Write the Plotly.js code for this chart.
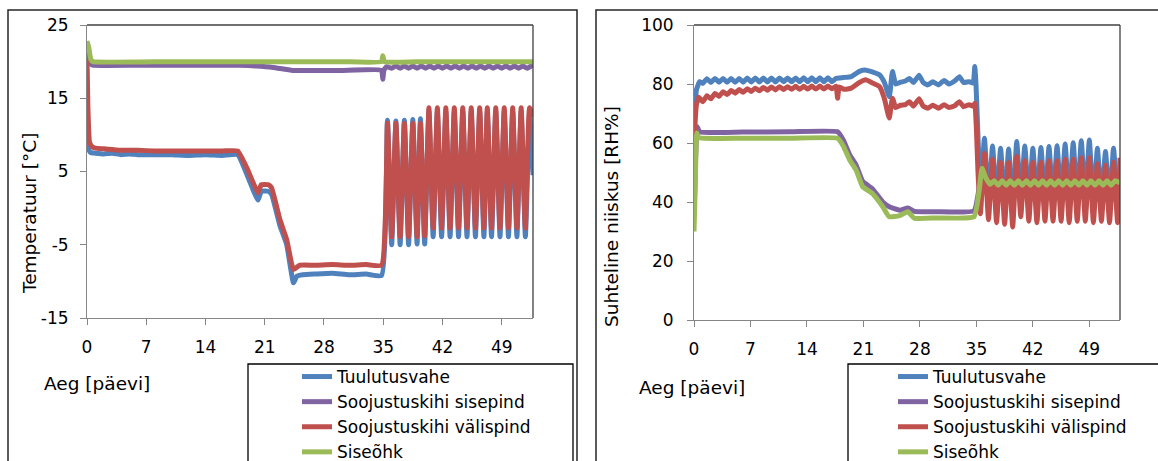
<!DOCTYPE html>
<html>
<head>
<meta charset="utf-8">
<script src="https://cdn.plot.ly/plotly-3.0.1.min.js"></script>
<style>
  html, body { margin: 0; padding: 0; background: #ffffff; }
  #chart { width: 1158px; height: 461px; }
</style>
</head>
<body>
<div id="chart"></div>
<script>
// ---------- Names, labels ----------
const seriesNames = ["Tuulutusvahe", "Soojustuskihi sisepind", "Soojustuskihi välispind", "Siseõhk"];
const seriesColors = ["#4F81BD", "#8064A2", "#C0504D", "#9BBB59"];
const xTickVals = [0, 7, 14, 21, 28, 35, 42, 49];
const tempTickVals = [-15, -5, 5, 15, 25];
const tempTickText = ["-15", "-5", "5", "15", "25"];
const rhTickVals = [0, 20, 40, 60, 80, 100];
const rhTickText = ["0", "20", "40", "60", "80", "100"];
const xTitle = "Aeg [päevi]";
const tempTitle = "Temperatuur [°C]";
const rhTitle = "Suhteline niiskus [RH%]";

// ---------- Temperature (°C) ----------
const tempTimeTuulutus = [0, 0.15, 0.4, 1, 2, 3, 4, 5, 6, 8, 10, 12, 14, 16, 17.8, 19.0, 20.2, 20.6, 21.4, 21.8, 22.8, 23.6, 24.4, 24.8, 25.5, 27, 29, 31, 33, 34.8,
  35.5, 36.0, 36.5, 37.0, 37.5, 38.0, 38.5, 39.0, 39.4, 39.9, 40.4, 40.9, 41.4, 41.9, 42.4, 42.9, 43.4, 43.9, 44.4, 44.9, 45.4, 45.9, 46.4, 46.9, 47.3, 47.8, 48.3, 48.8, 49.3, 49.8, 50.3, 50.8, 51.3, 51.8, 52.3, 52.7];
const tempTuulutus = [9.6, 8.2, 7.6, 7.5, 7.4, 7.5, 7.3, 7.4, 7.3, 7.3, 7.3, 7.2, 7.3, 7.2, 7.3, 4.3, 1.1, 2.3, 2.3, 1.9, -2.4, -5.0, -10.2, -9.3, -9.1, -9.0, -8.9, -9.1, -9.0, -9.2,
  12.0, -5.0, 11.9, -5.0, 12.0, -5.0, 12.1, -4.9, 12.2, -4.9, 13.2, -3.9, 13.2, -3.9, 13.2, -3.9, 13.2, -3.9, 13.2, -3.9, 13.2, -3.9, 13.2, -3.9, 13.2, -3.9, 13.2, -3.9, 13.2, -3.9, 13.2, -3.9, 13.2, -3.9, 13.2, 4.5];

const tempTimeSisepind = [0, 0.2, 0.5, 0.8, 6, 12, 18, 20, 22, 24.3, 27, 30, 34.8, 34.95, 35.1, 35.4,
  36.0, 36.5, 37.0, 37.5, 38.0, 38.5, 39.0, 39.5, 40.0, 40.5, 41.0, 41.5, 42.0, 42.5, 43.0, 43.5, 44.0, 44.5, 45.0, 45.5, 46.0, 46.5, 47.0, 47.5, 48.0, 48.5, 49.0, 49.5, 50.0, 50.5, 51.0, 51.5, 52.0, 52.5, 52.7];
const tempSisepind = [22.0, 20.8, 19.6, 19.5, 19.5, 19.5, 19.5, 19.4, 19.2, 18.8, 18.8, 18.8, 18.8, 17.6, 18.9, 19.3,
  19.1, 19.4, 19.1, 19.4, 19.1, 19.4, 19.1, 19.4, 19.1, 19.4, 19.1, 19.4, 19.1, 19.4, 19.1, 19.4, 19.1, 19.4, 19.1, 19.4, 19.1, 19.4, 19.1, 19.4, 19.1, 19.4, 19.1, 19.4, 19.1, 19.4, 19.1, 19.4, 19.1, 19.4, 19.2];

const tempTimeValispind = [0, 0.1, 0.3, 0.6, 1, 2, 3, 4, 6, 8, 10, 12, 14, 16, 17.8, 19.0, 20.2, 20.6, 21.4, 21.8, 22.8, 23.6, 24.4, 25.1, 27, 29, 31, 33, 34.8,
  35.5, 36.0, 36.5, 37.0, 37.5, 38.0, 38.5, 39.0, 39.4, 39.9, 40.4, 40.9, 41.4, 41.9, 42.4, 42.9, 43.4, 43.9, 44.4, 44.9, 45.4, 45.9, 46.4, 46.9, 47.3, 47.8, 48.3, 48.8, 49.3, 49.8, 50.3, 50.8, 51.3, 51.8, 52.3, 52.7];
const tempValispind = [20.6, 14.0, 9.0, 8.4, 8.2, 8.1, 8.0, 7.9, 7.9, 7.8, 7.8, 7.8, 7.8, 7.8, 7.8, 5.2, 2.1, 3.2, 3.2, 2.8, -1.6, -4.3, -8.4, -7.8, -7.8, -7.7, -7.8, -7.7, -7.8,
  11.6, -3.9, 11.6, -3.9, 11.6, -3.9, 11.6, -3.9, 11.6, -3.8, 13.7, -2.7, 13.7, -2.7, 13.7, -2.7, 13.7, -2.7, 13.7, -2.7, 13.7, -2.7, 13.7, -2.7, 13.7, -2.7, 13.7, -2.7, 13.7, -2.7, 13.7, -2.7, 13.7, -2.7, 13.7, 12.5];

const tempTimeSiseohk = [0, 0.2, 0.45, 0.7, 10, 20, 30, 34.8, 34.95, 35.15, 40, 45, 50, 52.7];
const tempSiseohk = [22.8, 22.0, 20.3, 20.0, 20.0, 20.0, 20.0, 20.0, 20.8, 20.0, 20.0, 20.0, 20.0, 20.0];

// ---------- Relative humidity (RH%) ----------
const rhTimeTuulutus = [0, 0.3, 0.7, 1.1, 1.6, 2.1, 2.6, 3.1, 3.6, 4.1, 4.6, 5.1, 5.6, 6.1, 6.6, 7.1, 7.6, 8.1, 8.6, 9.1, 9.6, 10.1, 10.6, 11.1, 11.6, 12.1, 12.6, 13.1, 13.6, 14.1, 14.6, 15.1, 15.6, 16.1, 16.6, 17.1, 17.6,
  18.5, 19.5, 20.5, 21.3, 22.0, 23.0, 23.6, 24.2, 24.6, 25.0, 25.6, 26.2, 26.7, 27.2, 27.9, 28.4, 29.0, 29.6, 30.3, 31.0, 31.6, 32.3, 32.9, 33.4, 34.1, 34.6, 34.8, 34.95, 35.2, 35.5,
  36.0, 36.5, 37.0, 37.5, 38.0, 38.5, 39.0, 39.5, 40.0, 40.5, 41.0, 41.5, 42.0, 42.5, 43.0, 43.5, 44.0, 44.5, 45.0, 45.5, 46.0, 46.5, 47.0, 47.5, 48.0, 48.5, 49.0, 49.5, 50.0, 50.5, 51.0, 51.5, 52.0, 52.5, 52.8];
const rhTuulutus = [65.0, 78.0, 80.8, 80.2, 81.8, 80.5, 81.9, 80.6, 81.9, 80.6, 81.9, 80.6, 81.9, 80.6, 82.0, 80.7, 82.0, 80.7, 82.0, 80.7, 82.0, 80.7, 82.0, 80.8, 82.0, 80.8, 82.0, 80.8, 82.1, 80.8, 82.1, 80.8, 82.1, 80.8, 82.1, 80.8, 81.9,
  82.2, 82.5, 84.3, 84.7, 84.2, 83.1, 80.5, 75.7, 84.2, 80.0, 80.6, 81.0, 81.9, 80.5, 83.0, 80.5, 79.7, 80.8, 79.7, 81.2, 80.0, 81.0, 82.5, 80.5, 80.8, 80.3, 85.9, 80.0, 62.0, 42.0,
  61.6, 40.0, 59.0, 40.0, 58.2, 39.5, 58.0, 39.0, 60.5, 41.0, 59.0, 40.0, 58.2, 40.0, 58.5, 40.0, 58.8, 40.0, 59.1, 40.0, 59.7, 40.0, 60.1, 40.0, 60.8, 40.0, 61.0, 40.0, 58.2, 40.0, 57.1, 40.0, 58.2, 40.0, 44.0];

const rhTimeSisepind = [0, 0.2, 0.4, 0.7, 6, 12, 17.8, 18.5, 19.3, 20.1, 20.9, 22.1, 23.4, 24.2, 25.5, 26.5, 27.3, 30, 34.7, 35.3, 35.7, 36.2,
  36.7, 37.2, 37.7, 38.2, 38.7, 39.2, 39.7, 40.2, 40.7, 41.2, 41.7, 42.2, 42.7, 43.2, 43.7, 44.2, 44.7, 45.2, 45.7, 46.2, 46.7, 47.2, 47.7, 48.2, 48.7, 49.2, 49.7, 50.2, 50.7, 51.2, 51.7, 52.2, 52.8];
const rhSisepind = [35.0, 55.0, 65.5, 63.8, 63.7, 63.8, 63.8, 61.0, 56.0, 52.5, 47.0, 44.5, 40.0, 38.4, 37.2, 38.0, 36.8, 36.7, 37.0, 44.0, 50.5, 48.5,
  47.0, 48.0, 47.0, 48.0, 47.0, 48.0, 47.0, 48.0, 47.0, 48.0, 47.0, 48.0, 47.0, 48.0, 47.0, 48.0, 47.0, 48.0, 47.0, 48.0, 47.0, 48.0, 47.0, 48.0, 47.0, 48.0, 47.0, 48.0, 47.0, 48.0, 47.0, 48.0, 48.5];

const rhTimeValispind = [0, 0.3, 0.6, 1.1, 1.6, 2.1, 2.6, 3.1, 3.6, 4.1, 4.6, 5.1, 5.6, 6.1, 6.6, 7.1, 7.6, 8.1, 8.6, 9.1, 9.6, 10.1, 10.6, 11.1, 11.6, 12.1, 12.6, 13.1, 13.6, 14.1, 14.6, 15.1, 15.6, 16.1, 16.6, 17.1, 17.6,
  17.8, 18.0, 18.6, 19.5, 20.5, 21.3, 22.0, 23.0, 23.6, 24.2, 24.6, 25.0, 25.6, 26.2, 26.7, 27.2, 27.9, 28.4, 29.0, 29.6, 30.3, 31.0, 31.6, 32.3, 32.9, 33.4, 34.1, 34.6, 34.8, 35.0, 35.2, 35.5,
  36.0, 36.5, 37.0, 37.5, 38.0, 38.5, 39.0, 39.5, 40.0, 40.5, 41.0, 41.5, 42.0, 42.5, 43.0, 43.5, 44.0, 44.5, 45.0, 45.5, 46.0, 46.5, 47.0, 47.5, 48.0, 48.5, 49.0, 49.5, 50.0, 50.5, 51.0, 51.5, 52.0, 52.5, 52.8];
const rhValispind = [60.0, 73.0, 75.5, 74.0, 76.0, 75.0, 76.8, 75.8, 77.4, 76.4, 77.8, 76.9, 78.1, 77.2, 78.4, 77.5, 78.6, 77.7, 78.8, 77.9, 79.0, 78.0, 79.1, 78.1, 79.1, 78.2, 79.2, 78.2, 79.2, 78.3, 79.3, 78.3, 79.3, 78.3, 79.3, 78.4, 79.3,
  75.2, 79.0, 78.2, 78.6, 80.5, 81.4, 80.5, 79.1, 75.0, 68.5, 75.2, 72.0, 72.8, 73.0, 74.0, 72.5, 75.0, 72.5, 71.8, 72.8, 71.8, 73.0, 72.0, 72.6, 74.0, 72.3, 73.0, 72.5, 73.5, 65.0, 50.0, 36.0,
  56.5, 34.0, 54.5, 33.0, 53.5, 32.5, 53.5, 31.5, 55.5, 35.0, 54.0, 33.5, 53.5, 33.0, 53.5, 33.5, 54.0, 33.5, 54.0, 33.5, 54.5, 33.0, 54.5, 33.5, 55.0, 33.5, 55.0, 33.0, 53.0, 33.5, 52.5, 33.0, 53.5, 33.0, 55.0];

const rhTimeSiseohk = [0, 0.15, 0.35, 0.6, 6, 12, 17.8, 18.5, 19.3, 20.1, 20.9, 22.1, 23.4, 24.2, 25.5, 26.5, 27.3, 30, 34.7, 35.3, 35.7, 36.2,
  36.7, 37.2, 37.7, 38.2, 38.7, 39.2, 39.7, 40.2, 40.7, 41.2, 41.7, 42.2, 42.7, 43.2, 43.7, 44.2, 44.7, 45.2, 45.7, 46.2, 46.7, 47.2, 47.7, 48.2, 48.7, 49.2, 49.7, 50.2, 50.7, 51.2, 51.7, 52.2, 52.8];
const rhSiseohk = [30.0, 45.0, 63.4, 61.8, 61.6, 61.6, 61.6, 59.0, 54.2, 50.8, 45.2, 42.9, 38.4, 35.0, 35.4, 36.7, 34.5, 34.6, 35.0, 43.0, 51.4, 48.0,
  46.0, 47.2, 45.7, 47.2, 45.7, 47.2, 45.7, 47.2, 45.7, 47.2, 45.7, 47.2, 45.7, 47.2, 45.7, 47.2, 45.7, 47.2, 45.7, 47.2, 45.7, 47.2, 45.7, 47.2, 45.7, 47.2, 45.7, 47.2, 45.7, 47.2, 45.7, 47.2, 46.5];

// ---------- Build figure ----------
const W = 1158, H = 461;
const px = v => v / W;          // pixel -> paper x
const py = v => 1 - v / H;      // pixel -> paper y
const FONT = "DejaVu Sans, Verdana, sans-serif";

const tempData = [
  [tempTimeTuulutus, tempTuulutus],
  [tempTimeSisepind, tempSisepind],
  [tempTimeValispind, tempValispind],
  [tempTimeSiseohk, tempSiseohk]
];
const rhData = [
  [rhTimeTuulutus, rhTuulutus],
  [rhTimeSisepind, rhSisepind],
  [rhTimeValispind, rhValispind],
  [rhTimeSiseohk, rhSiseohk]
];

const traces = [];
tempData.forEach((d, i) => traces.push({
  type: "scatter", mode: "lines", x: d[0], y: d[1], name: seriesNames[i],
  xaxis: "x", yaxis: "y", legend: "legend",
  line: { color: seriesColors[i], width: 5, shape: "spline", smoothing: 0.4 }
}));
rhData.forEach((d, i) => traces.push({
  type: "scatter", mode: "lines", x: d[0], y: d[1], name: seriesNames[i],
  xaxis: "x2", yaxis: "y2", legend: "legend2",
  line: { color: seriesColors[i], width: 5, shape: "spline", smoothing: 0.4 }
}));

const axisCommon = {
  showgrid: false, zeroline: false, showline: true, linecolor: "#868686", linewidth: 1,
  ticks: "outside", ticklen: 6, tickcolor: "#868686", automargin: false,
  tickfont: { family: FONT, size: 17, color: "#000000" }, fixedrange: true
};

const legendFont = { family: FONT, size: 17, color: "#000000" };

const layout = {
  width: W, height: H,
  margin: { l: 0, r: 0, t: 0, b: 0, pad: 0, autoexpand: false },
  paper_bgcolor: "#ffffff", plot_bgcolor: "#ffffff",
  font: { family: FONT, color: "#000000" },
  xaxis: Object.assign({}, axisCommon, {
    domain: [px(87), px(533)], range: [0, 52.7], tickvals: xTickVals, anchor: "y",
    ticklabelstandoff: 8
  }),
  yaxis: Object.assign({}, axisCommon, {
    domain: [py(318), py(25)], range: [-15, 25], tickvals: tempTickVals, ticktext: tempTickText, anchor: "x",
    ticklabelstandoff: 8
  }),
  xaxis2: Object.assign({}, axisCommon, {
    domain: [px(694), px(1120)], range: [0, 52.8], tickvals: xTickVals, anchor: "y2",
    ticklabelstandoff: 8
  }),
  yaxis2: Object.assign({}, axisCommon, {
    domain: [py(320), py(25)], range: [0, 100], tickvals: rhTickVals, ticktext: rhTickText, anchor: "x2",
    ticklabelstandoff: 10
  }),
  legend: {
    x: px(297), y: py(359), xanchor: "left", yanchor: "top",
    bgcolor: "rgba(0,0,0,0)", borderwidth: 0, font: legendFont,
    tracegroupgap: 0, itemclick: false, itemdoubleclick: false
  },
  legend2: {
    x: px(893), y: py(359), xanchor: "left", yanchor: "top",
    bgcolor: "rgba(0,0,0,0)", borderwidth: 0, font: legendFont,
    tracegroupgap: 0, itemclick: false, itemdoubleclick: false
  },
  showlegend: true,
  shapes: [
    // panel frames
    { type: "rect", xref: "paper", yref: "paper", x0: px(8), x1: px(577), y0: py(480), y1: py(10),
      line: { color: "#262626", width: 1.5 }, fillcolor: "rgba(0,0,0,0)", layer: "below" },
    { type: "rect", xref: "paper", yref: "paper", x0: px(596), x1: px(1180), y0: py(480), y1: py(10),
      line: { color: "#262626", width: 1.5 }, fillcolor: "rgba(0,0,0,0)", layer: "below" },
    // plot-area top/right edges
    { type: "line", xref: "x domain", yref: "y domain", x0: 0, x1: 1, y0: 1, y1: 1, line: { color: "#404040", width: 1.3 } },
    { type: "line", xref: "x domain", yref: "y domain", x0: 1, x1: 1, y0: 0, y1: 1, line: { color: "#404040", width: 1.3 } },
    { type: "line", xref: "x2 domain", yref: "y2 domain", x0: 0, x1: 1, y0: 1, y1: 1, line: { color: "#404040", width: 1.3 } },
    { type: "line", xref: "x2 domain", yref: "y2 domain", x0: 1, x1: 1, y0: 0, y1: 1, line: { color: "#404040", width: 1.3 } },
    // legend frames
    { type: "rect", xref: "paper", yref: "paper", x0: px(248), x1: px(573), y0: py(480), y1: py(364),
      line: { color: "#000000", width: 1.3 }, fillcolor: "#ffffff", layer: "below" },
    { type: "rect", xref: "paper", yref: "paper", x0: px(848), x1: px(1180), y0: py(480), y1: py(364),
      line: { color: "#000000", width: 1.3 }, fillcolor: "#ffffff", layer: "below" }
  ],
  annotations: [
    { text: tempTitle, xref: "paper", yref: "paper", x: px(29), y: py(214), textangle: -90,
      showarrow: false, xanchor: "center", yanchor: "middle", font: { family: FONT, size: 18.5, color: "#000000" } },
    { text: rhTitle, xref: "paper", yref: "paper", x: px(611), y: py(216), textangle: -90,
      showarrow: false, xanchor: "center", yanchor: "middle", font: { family: FONT, size: 18.5, color: "#000000" } },
    { text: xTitle, xref: "paper", yref: "paper", x: px(42), y: py(383), xanchor: "left", yanchor: "middle",
      showarrow: false, font: { family: FONT, size: 18.5, color: "#000000" } },
    { text: xTitle, xref: "paper", yref: "paper", x: px(637), y: py(387), xanchor: "left", yanchor: "middle",
      showarrow: false, font: { family: FONT, size: 18.5, color: "#000000" } }
  ]
};

Plotly.newPlot("chart", traces, layout, { displayModeBar: false, staticPlot: true });
</script>
</body>
</html>
